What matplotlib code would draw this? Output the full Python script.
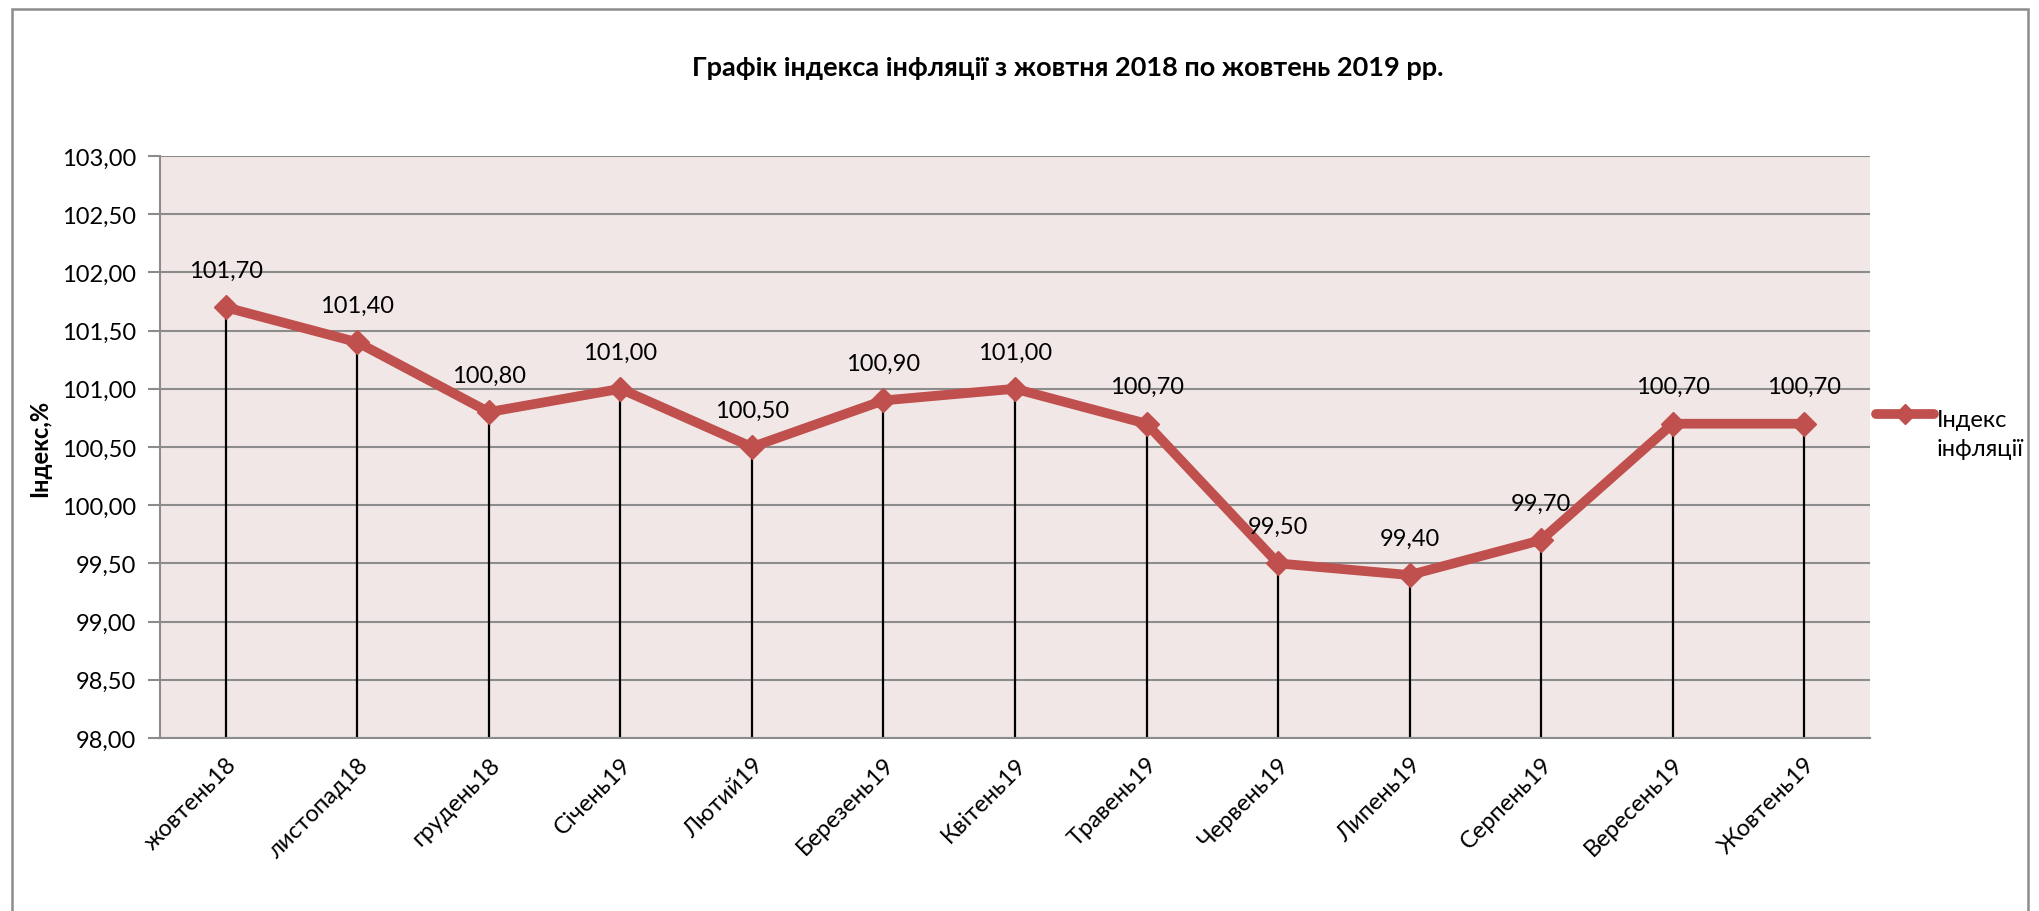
import matplotlib
matplotlib.use("Agg")
import matplotlib.pyplot as plt
from matplotlib.patches import Rectangle
from matplotlib.lines import Line2D

plt.rcParams['font.family'] = ['Lato', 'DejaVu Sans']

# Monthly inflation index, Oct 2018 - Oct 2019
months = ["жовтень18", "листопад18", "грудень18", "Січень19", "Лютий19",
          "Березень19", "Квітень19", "Травень19", "Червень19", "Липень19",
          "Серпень19", "Вересень19", "Жовтень19"]
index_values = [101.70, 101.40, 100.80, 101.00, 100.50, 100.90, 101.00,
                100.70, 99.50, 99.40, 99.70, 100.70, 100.70]
y_ticks = [98.0, 98.5, 99.0, 99.5, 100.0, 100.5, 101.0, 101.5, 102.0, 102.5, 103.0]
series_name = "Індекс\nінфляції"

LINE_RED = "#C0504D"
GRID_GRAY = "#8C8C8C"
W, H = 2040, 912

fig = plt.figure(figsize=(W / 100, H / 100), dpi=100)
ax = fig.add_axes([160 / W, 1 - 739 / H, 1710 / W, 582 / H])

ax.set_facecolor("#F2E7E7")
ax.set_xlim(-0.5, len(months) - 0.5)
ax.set_ylim(98, 103)

x = range(len(months))
# drop lines from each point down to the category axis
ax.vlines(x, 98, index_values, colors="black", linewidth=1.6, zorder=2)
ax.plot(x, index_values, color=LINE_RED, linewidth=7, marker="D",
        markersize=12, zorder=3, solid_capstyle="round")

for xi, v in zip(x, index_values):
    ax.annotate(f"{v:.2f}".replace(".", ","), (xi, v), xytext=(0, 19),
                textcoords="offset points", ha="center", va="bottom",
                fontsize=17)

ax.set_yticks(y_ticks)
ax.set_yticklabels([f"{t:.2f}".replace(".", ",") for t in y_ticks], fontsize=17)
ax.set_xticks(list(x))
ax.set_xticklabels(months, rotation=45, ha="right", rotation_mode="anchor",
                   fontsize=17)
ax.tick_params(axis="x", length=0, pad=11)
ax.tick_params(axis="y", length=9, color=GRID_GRAY, width=1.5, pad=8)
ax.yaxis.grid(True, color=GRID_GRAY, linewidth=1.5)
ax.set_axisbelow(True)
for side in ("top", "right"):
    ax.spines[side].set_visible(False)
for side in ("left", "bottom"):
    ax.spines[side].set_color(GRID_GRAY)
    ax.spines[side].set_linewidth(1.5)

ax.set_ylabel("Індекс,%", fontsize=17, fontweight="bold", labelpad=8)

fig.text(1068 / W, 1 - 68 / H,
         "Графік індекса інфляції з жовтня 2018 по жовтень 2019 рр.",
         ha="center", va="center", fontsize=19.5, fontweight="bold")

# legend: key sits level with the first line of the label
fig.add_artist(Line2D([1876 / W, 1934 / W], [1 - 415 / H] * 2,
                      transform=fig.transFigure, color=LINE_RED, linewidth=7,
                      solid_capstyle="round"))
fig.add_artist(Line2D([1905 / W], [1 - 415 / H], transform=fig.transFigure,
                      color=LINE_RED, marker="D", markersize=10))
fig.text(1937 / W, 1 - 410 / H, series_name, ha="left", va="top",
         fontsize=17, linespacing=1.45)

# outer chart frame
fig.patches.append(Rectangle((12 / W, -0.05), 2016 / W, 1.05 - 10 / H,
                             transform=fig.transFigure, fill=False,
                             edgecolor="#8C8C8C", linewidth=1.8))

fig.savefig("out.png", dpi=100)
